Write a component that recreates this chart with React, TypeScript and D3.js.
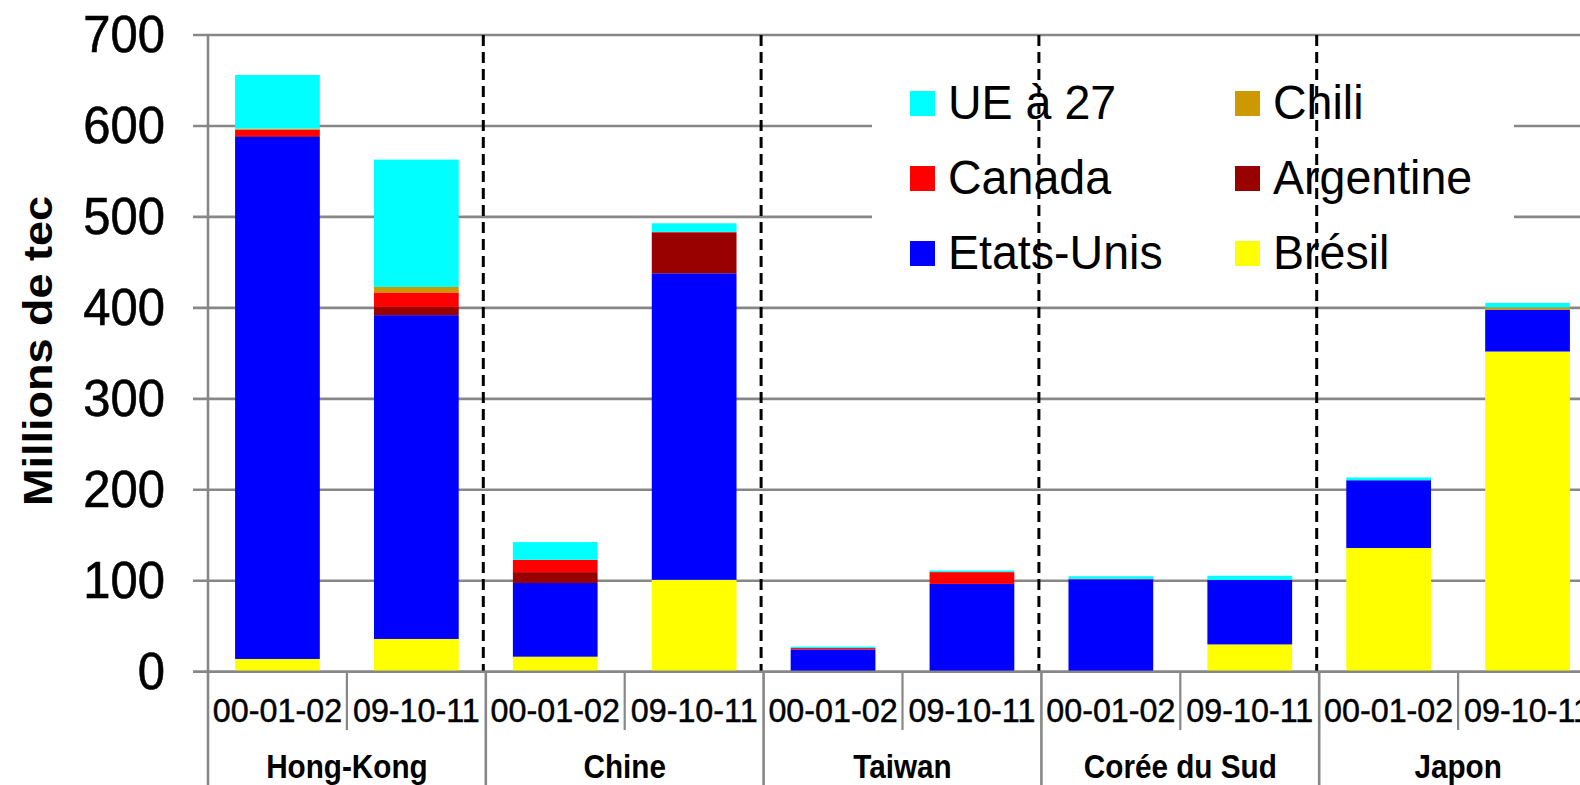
import React from "react";
import * as d3 from "d3";

const groups = ["Hong-Kong", "Chine", "Taiwan", "Corée du Sud", "Japon"];
const periods = ["00-01-02", "09-10-11"];
const yTicks = [0, 100, 200, 300, 400, 500, 600, 700];

const seriesNames = ["Brésil", "Etats-Unis", "Argentine", "Canada", "Chili", "UE à 27"];
const seriesColors = ["#FFFF00", "#0000FF", "#990000", "#FF0000", "#CC9900", "#00FFFF"];

// order of bars: HK-00, HK-09, CN-00, CN-09, TW-00, TW-09, KR-00, KR-09, JP-00, JP-09
const bresil = [14, 36, 16.5, 101, 0, 0, 0, 30, 136, 352];
const etatsUnis = [574, 356, 81, 337, 24.5, 96.5, 101.5, 71, 74.5, 46];
const argentine = [1, 9, 12, 45, 0, 0, 0, 0, 0, 0];
const canada = [7, 16, 13.5, 0.5, 1.5, 13, 0.5, 0, 0, 0];
const chili = [1, 6, 0, 0, 0, 0, 0, 0, 0, 2.5];
const ue27 = [59, 140, 19.5, 9.5, 1.5, 1.7, 3, 4.5, 3, 5];

const seriesValues = [bresil, etatsUnis, argentine, canada, chili, ue27];

const legendOrder = [
  ["UE à 27", "Chili"],
  ["Canada", "Argentine"],
  ["Etats-Unis", "Brésil"],
];

const W = 1580;
const H = 785;
const FONT = "'Liberation Sans', Arial, Helvetica, sans-serif";
const GRID = "#878787";

export default function App() {
  const barIds: string[] = [];
  groups.forEach((g) => periods.forEach((p) => barIds.push(g + "|" + p)));

  const x0 = 208;
  const step = 138.9;
  const x = d3
    .scaleBand<string>()
    .domain(barIds)
    .range([x0, x0 + barIds.length * step])
    .paddingInner(0.39)
    .paddingOuter(0.195);
  const y = d3.scaleLinear().domain([0, 700]).range([671.7, 35]);

  const table = barIds.map((id, i) => {
    const row: any = { id };
    seriesNames.forEach((s, k) => (row[s] = seriesValues[k][i]));
    return row;
  });
  const stacked = d3.stack<any>().keys(seriesNames)(table);

  const groupW = step * periods.length;
  const groupStart = (g: number) => x0 + g * groupW;
  const yBase = y(0);

  return (
    <svg
      width={W}
      height={H}
      style={{ position: "absolute", left: 0, top: 0, background: "#fff" }}
      fontFamily={FONT}
    >
      <rect x={0} y={0} width={W} height={H} fill="#fff" />
      {yTicks.map((t) => (
        <line key={"g" + t} x1={193} x2={W} y1={y(t)} y2={y(t)} stroke={GRID} strokeWidth={2.6} />
      ))}
      <line x1={x0} x2={x0} y1={y(700)} y2={H} stroke={GRID} strokeWidth={2.6} />
      {yTicks.map((t) => (
        <text
          key={"t" + t}
          transform={`translate(165,${y(t) + 17}) scale(0.96,1)`}
          textAnchor="end"
          fontSize={51}
          fill="#000"
          stroke="#000"
          strokeWidth={0.6}
        >
          {t}
        </text>
      ))}
      <text
        transform={`translate(52,351) rotate(-90) scale(1,0.92)`}
        textAnchor="middle"
        fontSize={45}
        fontWeight="bold"
        fill="#000"
      >
        Millions de tec
      </text>

      {stacked.map((layer, k) => (
        <g key={layer.key} fill={seriesColors[k]}>
          {layer.map((d, i) =>
            d[1] - d[0] > 0 ? (
              <rect
                key={i}
                x={x(barIds[i])}
                width={x.bandwidth()}
                y={y(d[1])}
                height={y(d[0]) - y(d[1])}
              />
            ) : null
          )}
        </g>
      ))}

      <rect x={872} y={62} width={642} height={228} fill="#fff" />

      {groups.slice(1).map((g, i) => (
        <line
          key={"d" + g}
          x1={groupStart(i + 1) - 2.5}
          x2={groupStart(i + 1) - 2.5}
          y1={y(700)}
          y2={yBase}
          stroke="#000"
          strokeWidth={3}
          strokeDasharray="11,6"
        />
      ))}

      {legendOrder.map((row, r) =>
        row.map((name, c) => {
          const k = seriesNames.indexOf(name);
          const lx = c === 0 ? 910 : 1235;
          const by = 119 + r * 75;
          return (
            <g key={name}>
              <rect x={lx} y={by - 28} width={25} height={25} fill={seriesColors[k]} />
              <text
                transform={`translate(${lx + 38},${by}) scale(0.97,1)`}
                fontSize={48}
                fill="#000"
              >
                {name}
              </text>
            </g>
          );
        })
      )}

      <line x1={193} x2={W} y1={yBase} y2={yBase} stroke={GRID} strokeWidth={2.6} />
      {groups.map((g, i) => (
        <line
          key={"s" + g}
          x1={groupStart(i) + step}
          x2={groupStart(i) + step}
          y1={yBase}
          y2={730}
          stroke={GRID}
          strokeWidth={2.2}
        />
      ))}
      {groups.map((g, i) => (
        <line
          key={"b" + g}
          x1={groupStart(i + 1)}
          x2={groupStart(i + 1)}
          y1={yBase}
          y2={H}
          stroke={GRID}
          strokeWidth={2.6}
        />
      ))}
      {barIds.map((id) => {
        const cx = (x(id) as number) + x.bandwidth() / 2;
        return (
          <text
            key={"p" + id}
            transform={`translate(${cx},721.5) scale(0.95,1)`}
            textAnchor="middle"
            fontSize={34}
            fill="#000"
            stroke="#000"
            strokeWidth={0.5}
          >
            {id.split("|")[1]}
          </text>
        );
      })}
      {groups.map((g, i) => (
        <text
          key={"l" + g}
          transform={`translate(${groupStart(i) + groupW / 2},778) scale(0.9,1)`}
          textAnchor="middle"
          fontSize={33}
          fontWeight="bold"
          fill="#000"
        >
          {g}
        </text>
      ))}
    </svg>
  );
}
